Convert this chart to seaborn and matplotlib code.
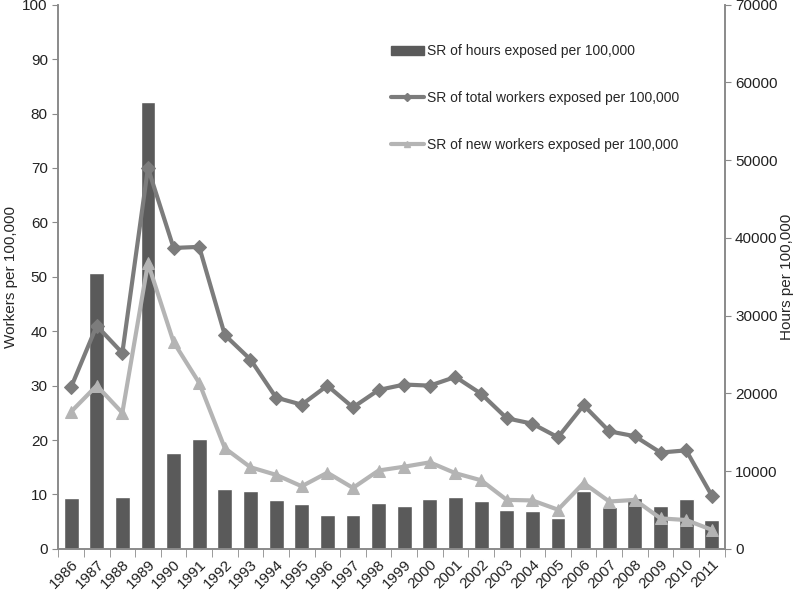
import pandas as pd
import matplotlib
matplotlib.use("Agg")
import matplotlib.pyplot as plt
import seaborn as sns
from matplotlib.lines import Line2D
from matplotlib.patches import Patch

years = [str(y) for y in range(1986, 2012)]

hours_exposed = [6580, 35500, 6650, 57540, 12390, 14140, 7700, 7420, 6300, 5740,
                 4340, 4410, 5950, 5530, 6390, 6650, 6140, 5060, 4850, 3950,
                 7420, 5440, 6520, 5500, 6470, 3730]

total_workers = [29.7, 41.0, 36.0, 70.0, 55.3, 55.5, 39.3, 34.8, 27.8, 26.5,
                 30.0, 26.0, 29.2, 30.2, 30.0, 31.6, 28.5, 24.0, 23.0, 20.5,
                 26.4, 21.6, 20.7, 17.7, 18.1, 9.8]

new_workers = [25.2, 30.0, 25.0, 52.5, 38.0, 30.5, 18.5, 15.0, 13.6, 11.5,
               14.0, 11.2, 14.4, 15.1, 15.9, 13.9, 12.6, 9.0, 8.9, 7.2,
               12.1, 8.7, 9.0, 5.6, 5.3, 3.5]

df = pd.DataFrame({"year": years, "hours": hours_exposed,
                   "total": total_workers, "new": new_workers})

bar_col = "#5a5a5a"
total_col = "#7c7c7c"
new_col = "#b4b4b4"
spine_col = "#8a8a8a"

sns.set_style("white")
plt.rcParams["font.family"] = ["Liberation Sans", "DejaVu Sans"]

fig = plt.figure(figsize=(7.98, 5.94), dpi=100)
ax = fig.add_axes([0.073, 0.076, 0.835, 0.916])

# bars on the hours axis (shown on the right), drawn first so lines sit on top
sns.barplot(data=df, x="year", y="hours", color=bar_col, width=0.58,
            saturation=1, ax=ax)
ax.set_xlabel("")

# lines on the workers axis (shown on the left)
ax2 = ax.twinx()
sns.lineplot(data=df, x="year", y="total", color=total_col, marker="D",
             markersize=7, linewidth=3, markeredgecolor=total_col,
             sort=False, ax=ax2)
sns.lineplot(data=df, x="year", y="new", color=new_col, marker="^",
             markersize=8, linewidth=3, markeredgecolor=new_col,
             sort=False, ax=ax2)

ax.set_ylim(0, 70000)
ax.set_yticks(range(0, 70001, 10000))
ax.yaxis.tick_right()
ax.yaxis.set_label_position("right")
ax.set_ylabel("Hours per 100,000", fontsize=11)
ax.yaxis.set_label_coords(1.083, 0.5)

ax2.set_ylim(0, 100)
ax2.set_yticks(range(0, 101, 10))
ax2.yaxis.tick_left()
ax2.yaxis.set_label_position("left")
ax2.set_ylabel("Workers per 100,000", fontsize=11)
ax2.yaxis.set_label_coords(-0.06, 0.5)
ax2.set_xlim(-0.5, len(years) - 0.5)

for a in (ax, ax2):
    a.spines["top"].set_visible(False)
    for side in ("left", "right", "bottom"):
        a.spines[side].set_color(spine_col)
        a.spines[side].set_linewidth(1.2)
    a.tick_params(axis="y", colors="#222222", labelsize=11, length=4,
                  color=spine_col, direction="out")

# x ticks: labels at the centres, tick marks between categories
ax.set_xticks(range(len(years)))
ax.set_xticklabels(years, rotation=45, ha="right", rotation_mode="anchor",
                   fontsize=11, color="#222222")
ax.tick_params(axis="x", which="major", length=0, pad=6)
ax.set_xticks([i - 0.5 for i in range(len(years) + 1)], minor=True)
ax.tick_params(axis="x", which="minor", length=6, color=spine_col,
               direction="out", bottom=True)
ax2.tick_params(axis="x", bottom=False, labelbottom=False)

handles = [
    Patch(facecolor=bar_col, edgecolor=bar_col),
    Line2D([], [], color=total_col, lw=3, marker="D", markersize=4),
    Line2D([], [], color=new_col, lw=3, marker="^", markersize=5),
]
labels = ["SR of hours exposed per 100,000",
          "SR of total workers exposed per 100,000",
          "SR of new workers exposed per 100,000"]
ax2.legend(handles, labels, loc="upper left", bbox_to_anchor=(0.48, 0.95),
           frameon=False, fontsize=10, labelspacing=2.35, handlelength=2.4,
           handletextpad=0.2)

fig.savefig("out.png", dpi=100)
